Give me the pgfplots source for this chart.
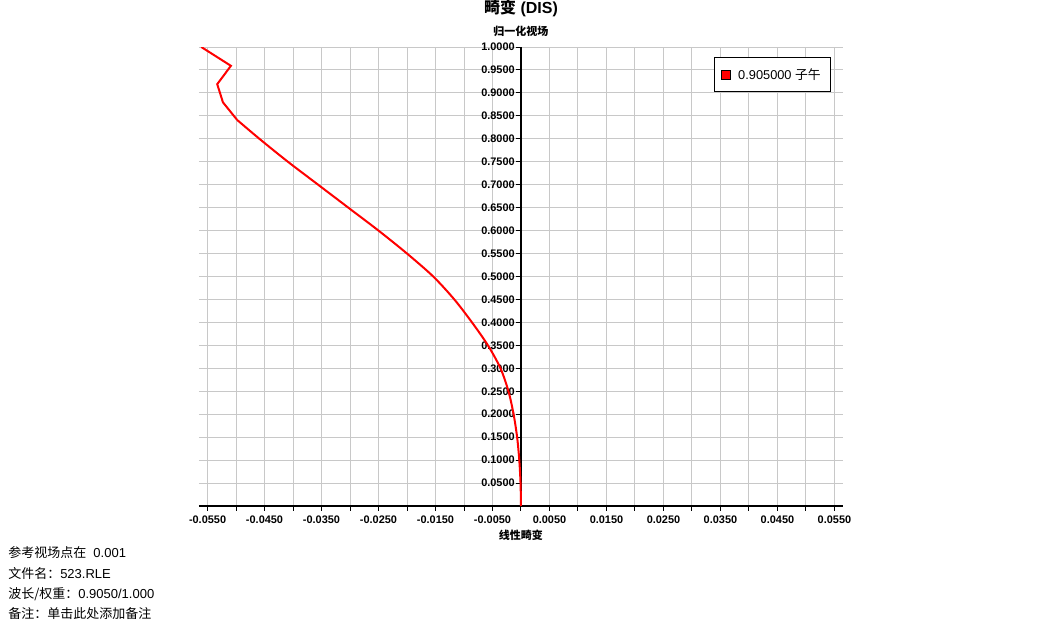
\documentclass[border=0pt]{standalone}
\usepackage{fontspec}
\setmainfont{Liberation Sans}
\newfontfamily\cjk{Noto Sans CJK SC}
\usepackage{pgfplots}
\pgfplotsset{compat=1.18}
\definecolor{gridgray}{RGB}{200,200,200}
\begin{document}
\begin{tikzpicture}
\useasboundingbox (-149.25pt,-90pt) rectangle (641.25pt,379.5pt);
\begin{axis}[
  at={(0,0)}, anchor=south west,
  scale only axis, width=483pt, height=344.25pt,
  xmin=-0.0565, xmax=0.0565, ymin=0, ymax=1,
  axis x line=bottom, axis y line=center,
  axis line style={-, black, line width=1.1pt},
  scaled x ticks=false, scaled y ticks=false,
  xtick={-0.055,-0.045,-0.035,-0.025,-0.015,-0.005,0.005,0.015,0.025,0.035,0.045,0.055},
  minor xtick={-0.05,-0.04,-0.03,-0.02,-0.01,0,0.01,0.02,0.03,0.04,0.05},
  ytick={0.05,0.1,0.15,0.2,0.25,0.3,0.35,0.4,0.45,0.5,0.55,0.6,0.65,0.7,0.75,0.8,0.85,0.9,0.95,1.0},
  grid=both,
  major grid style={gridgray, line width=0.75pt},
  minor grid style={gridgray, line width=0.75pt},
  tick align=outside,
  major tick length=3.5pt, minor tick length=3.5pt,
  tick style={black, line width=0.75pt},
  /pgf/number format/.cd, fixed, fixed zerofill, precision=4, assume math mode=true,
  /pgfplots/.cd,
  ticklabel style={font=\bfseries\fontsize{8.2}{9}\selectfont},
  yticklabel style={inner xsep=1pt},
  title={\bfseries\fontsize{12}{14}\selectfont{\cjk\bfseries 畸变} (DIS)},
  title style={at={(axis cs:0,1)}, anchor=center, yshift=23.25pt},
  ylabel={\cjk\bfseries\fontsize{8.25}{10}\selectfont 归一化视场},
  every axis y label/.style={at={(axis cs:0,1)}, anchor=center, yshift=12pt},
  xlabel={\cjk\bfseries\fontsize{8.25}{10}\selectfont 线性畸变},
  every axis x label/.style={at={(axis cs:0,0)}, anchor=center, yshift=-21.75pt},
  legend style={at={(rel axis cs:0.7997,0.978)}, anchor=north west, draw=black,
    line width=0.75pt, font=\fontsize{9.6}{11}\selectfont,
    inner xsep=5pt, inner ysep=6pt},
  legend cell align=left,
]
\addplot[red, line width=1.5pt,
  legend image code/.code={\draw[fill=red, draw=black, line width=0.5pt] (1.5pt,-3.4pt) rectangle (8.3pt,3.4pt);}]
  coordinates {
  (-0.0561,1.0)
  (-0.0509,0.959)
  (-0.0533,0.919)
  (-0.0523,0.8795)
  (-0.0498,0.841)
  };
\addlegendentry{\hspace{3.5pt}0.905000 {\cjk 子午}}
\addplot[red, line width=1.5pt, smooth, tension=0.5, forget plot]
  coordinates {
  (-0.0498,0.841)
  (-0.0459,0.80)
  (-0.0409,0.75)
  (-0.0356,0.70)
  (-0.0303,0.65)
  (-0.0250,0.60)
  (-0.0200,0.55)
  (-0.0154,0.50)
  (-0.0117,0.45)
  (-0.0086,0.40)
  (-0.0058,0.35)
  (-0.0036,0.30)
  (-0.0022,0.25)
  (-0.0013,0.20)
  (-0.00068,0.15)
  (-0.00030,0.10)
  (-0.00008,0.05)
  (0,0)
  };
\end{axis}
\begin{scope}[every node/.style={anchor=west, inner sep=0pt, font=\fontsize{9.75}{11}\selectfont}]
\node at (-143.25pt,-35.25pt) {{\cjk 参考视场点在}\ \ 0.001};
\node at (-143.25pt,-51pt) {{\cjk 文件名：}523.RLE};
\node at (-143.25pt,-66pt) {{\cjk 波长/权重：}0.9050/1.000};
\node at (-143.25pt,-81pt) {{\cjk 备注：单击此处添加备注}};
\end{scope}
\end{tikzpicture}
\end{document}
